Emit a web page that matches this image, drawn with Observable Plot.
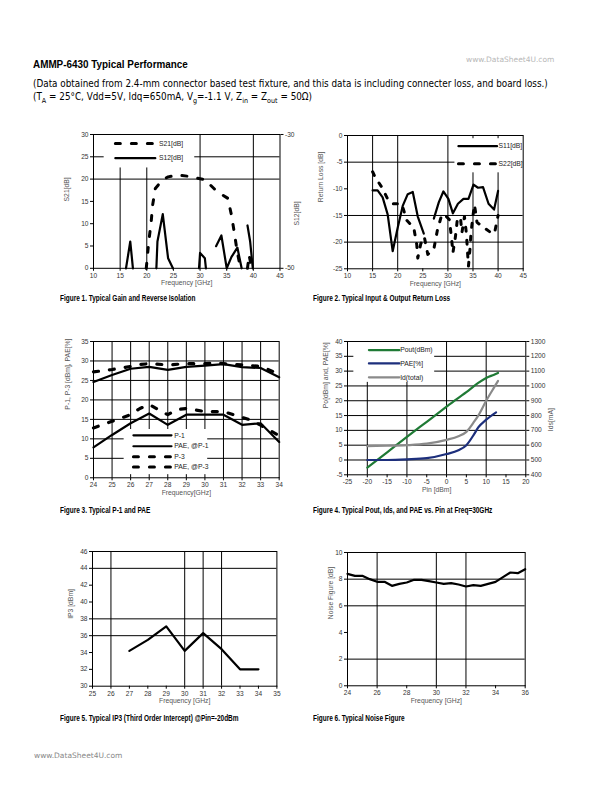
<!DOCTYPE html>
<html><head><meta charset="utf-8">
<script src="https://cdn.jsdelivr.net/npm/d3@7"></script>
<script src="https://cdn.jsdelivr.net/npm/@observablehq/plot@0.6"></script>
<style>
html,body{margin:0;padding:0;background:#fff;}
body{width:612px;height:792px;position:relative;overflow:hidden;font-family:"Liberation Sans",Arial,sans-serif;color:#000;}
.abs{position:absolute;white-space:nowrap;}
.title{font-weight:bold;font-size:11.5px;transform:scaleX(0.86);transform-origin:0 0;}
.sub{font-size:9.6px;font-family:"DejaVu Sans","Liberation Sans",sans-serif;transform:scaleX(0.92);transform-origin:0 0;}
.cap{font-weight:bold;font-size:9.4px;transform:scaleX(0.69);transform-origin:0 0;}
.wm{font-size:7.5px;color:#9a9a9a;font-family:"DejaVu Sans","Liberation Sans",sans-serif;}
svg{overflow:visible;}
</style></head>
<body>
<div class="abs title" style="left:33px;top:58px;">AMMP-6430 Typical Performance</div>
<div class="abs wm" style="left:466px;top:55px;color:#b8b8b8;">www.DataSheet4U.com</div>
<div class="abs sub" style="left:33px;top:78px;">(Data obtained from 2.4-mm connector based test fixture, and this data is including connecter loss, and board loss.)</div>
<div class="abs sub" style="left:33px;top:91px;">(T<sub style="font-size:7px">A</sub> = 25°C, Vdd=5V, Idq=650mA, V<sub style="font-size:7px">g</sub>=-1.1 V, Z<sub style="font-size:7px">in</sub> = Z<sub style="font-size:7px">out</sub> = 50Ω)</div>
<div class="abs wm" style="left:34px;top:751px;color:#888;">www.DataSheet4U.com</div>
<script>
// ---------------- Figure 1 : Gain and reverse isolation
const f1S21Freq = [19.9,20.4,20.8,21.1,21.6,23,24,25.9,28,29.5,31.2,32,33.1,34,35.2,35.9,36.4,37,37.6,38.2,38.9,39.2,39.6];
const f1S21     = [0,6.3,10.1,14.2,17.9,19.9,20.5,20.9,20.6,20.2,19.8,18.6,17.3,16.6,15.7,11.9,8.2,3.5,0,NaN,0,3,0.5];
const f1S12Freq = [16.1,16.9,17.4,19,21.8,22,23,24,24.9,27,29.8,30,30.9,31.1,32,33,34,35,35.9,37,37.8,38.3,38.9,39.4,39.9];
const f1S12     = [-50,-46,-50,NaN,-50,-46,-41.9,-48.5,-50,NaN,-50,-47.7,-48.5,-50,NaN,-46.7,-45.1,-50,-48.3,-46.9,-50,NaN,-43.6,-46,-50];
const f1XTicks = [10,15,20,25,30,35,40,45];
const f1YTicks = [0,5,10,15,20,25,30];
const f1RightTicks = [-30,-50];
const f1GridX = [15,20,30,40];
const f1GridY = [20,25];

// ---------------- Figure 2 : Return loss
const f2S11Freq = [15,16,17,18,19,20,21,22,23,24,25.2,26,27.2,28.2,29.1,30.1,31,32,33.1,34.1,35.1,36,37,38.1,39.2,40];
const f2S11     = [-10.3,-10.3,-11.6,-14.8,-21.7,-17.3,-13.2,-11,-10.6,-15.2,-18.4,NaN,-15.6,-12.5,-10.5,-11.9,-14.6,-12.8,-11.9,-11.9,-9.2,-9.8,-9.7,-12.8,-13.9,-10.4];
const f2S22Freq = [15,15.5,16.9,18.2,19,20.8,21.8,23.2,23.8,24,24.6,25.3,26,27.2,27.9,28.8,29.5,30.3,30.7,31,31.5,31.9,32.5,32.8,33.3,33.7,33.9,34.1,34.4,34.6,35,35.3,35.8,37.5,39,39.4,40];
const f2S22     = [-6.8,-7.8,-9.8,-12.3,-12.8,-12.8,-15.9,-17.3,-20.5,-23,-20.3,-19,-22.3,-21.3,-17.8,-14.8,-15,-15.8,-19,-22,-19,-15.6,-15.4,-18.2,-15.2,-18.5,-21.7,-24.5,-21.3,-18.3,-15,-13,-16.3,-17.5,-18.5,-17.8,-15];
const f2XTicks = [10,15,20,25,30,35,40,45];
const f2YTicks = [-25,-20,-15,-10,-5,0];
const f2GridX = [15,20,30,35,40];
const f2GridY = [-5,-15,-20];

// ---------------- Figure 3 : P-1 and PAE
const f3Freq   = [24,25,26,27,28,29,30,31,32,33,34];
const f3P1     = [24.6,26.4,28,28.5,27.7,28.5,28.8,29.2,28.4,28.2,25.8];
const f3PAE1   = [7.8,11,14,16.5,13.6,16.2,16.2,16.2,13.6,14,9.2];
const f3P3Freq = [24,25,26,26.5,27,28,29,30,30.5,31,32,33,34];
const f3P3     = [27.2,27.8,28.6,29.1,29.3,29,29.3,29.3,29.5,29.3,29,28.6,26.6];
const f3PAE3Freq = [24,25,26,26.5,27,28,28.5,29,30,31,32,32.5,33,34];
const f3PAE3   = [12.8,14.5,16.2,17.8,18.8,16.2,17.5,17.8,17,17,15.5,14.8,13.5,10.8];
const f3XTicks = [24,25,26,27,28,29,30,31,32,33,34];
const f3YTicks = [0,5,10,15,20,25,30,35];
const f3GridX = [25,26,27,28,29,30,31,32,33];
const f3GridY = [5,10,15,20,25,30];

// ---------------- Figure 4 : Pout, Ids, PAE vs Pin
const f4Pin     = [-20,-15,-10,-5,0,3,5,7,8,10,12,13];
const f4Pout    = [-2.6,2.6,7.8,12.9,18,21,22.9,25,26,27.7,28.8,29.4];
const f4PaePin  = [-20,-15,-10,-5,0,3,5,7,8,10,12.5];
const f4Pae     = [0,0,0.2,0.6,2,3.3,5,8.8,11,13.6,16.1];
const f4IdPin   = [-20,-15,-10,-5,0,3,5,7,8,10,12,13];
const f4Id      = [594,596,600,610,636,660,690,760,800,900,990,1034];
const f4XTicks = [-25,-20,-15,-10,-5,0,5,10,15,20];
const f4YTicks = [-5,0,5,10,15,20,25,30,35,40];
const f4RightTicks = [400,500,600,700,800,900,1000,1100,1200,1300];
const f4GridX = [-20,-10,0,10];
const f4GridY = [0,5,10,15,20,25,30,35];

// ---------------- Figure 5 : IP3
const f5Freq = [27,28,29,30,31,32,33,34];
const f5IP3  = [34.2,35.5,37.1,34.2,36.3,34.4,32,32];
const f5XTicks = [25,26,27,28,29,30,31,32,33,34,35];
const f5YTicks = [30,32,34,36,38,40,42,44,46];
const f5GridX = [26,30,31,32];
const f5GridY = [36,38,44];

// ---------------- Figure 6 : Noise figure
const f6Freq = [24,24.5,25,25.5,26,26.5,27,27.5,28,28.5,29,29.5,30,30.5,31,31.5,32,32.5,33,33.5,34,34.5,35,35.5,36];
const f6NF   = [8.4,8.25,8.25,8.0,7.8,7.8,7.5,7.65,7.75,7.95,7.95,7.85,7.75,7.65,7.7,7.6,7.45,7.55,7.5,7.65,7.8,8.15,8.5,8.45,8.75];
const f6XTicks = [24,26,28,30,32,34,36];
const f6YTicks = [0,2,4,6,8,10];
const f6GridX = [26,30,32];
const f6GridY = [2,6,8];

// ---------------- helpers
const rows = (xs, ys) => xs.map((x, i) => ({x, y: ys[i]}));
const FONT = "'Liberation Sans', Arial, sans-serif";
const TICKC = "#333", TITLEC = "#555";

function panel(o) {
  const mL = 40, mR = 40, mT = 6, mB = 34;
  const W = o.fx1 - o.fx0, H = o.fy1 - o.fy0;
  const marks = [
    Plot.ruleX(o.gridX, {stroke: "#000", strokeWidth: 1}),
    Plot.ruleY(o.gridY, {stroke: "#000", strokeWidth: 1})
  ];
  if (o.box) marks.push(Plot.rect([o.box], {x1: "x1", x2: "x2", y1: "y1", y2: "y2", fill: "#fff"}));
  marks.push(...o.marks);
  marks.push(Plot.frame({stroke: "#000", strokeWidth: 1}));
  marks.push(Plot.axisX(o.xTicks, {tickSize: 3, tickPadding: 2, label: null, fill: TICKC, tickFormat: d => String(d)}));
  marks.push(Plot.axisY(o.yTicks, {tickSize: 3, tickPadding: 2, label: null, fill: TICKC, tickFormat: d => String(d)}));
  if (o.right) marks.push(Plot.axisY(o.right.ticks.map(o.right.scale), {anchor: "right", tickSize: 3, tickPadding: 2, label: null, fill: TICKC, tickFormat: d => String(Math.round(o.right.scale.invert(d)))}));
  marks.push(Plot.text([o.xTitle], {text: d => d, frameAnchor: "bottom", dy: o.xTitleDy ?? 17, fill: TITLEC, fontSize: 6.8}));
  marks.push(Plot.text([o.yTitle], {text: d => d, frameAnchor: "left", dx: o.yTitleDx ?? -24, rotate: -90, fill: TITLEC, fontSize: 6.8}));
  if (o.right) marks.push(Plot.text([o.right.title], {text: d => d, frameAnchor: "right", dx: o.right.dx ?? 18, rotate: -90, fill: TITLEC, fontSize: 6.8}));
  const svg = Plot.plot({
    width: W + mL + mR, height: H + mT + mB,
    marginLeft: mL, marginRight: mR, marginTop: mT, marginBottom: mB,
    style: {fontFamily: FONT, fontSize: "6.6px", background: "transparent", overflow: "visible"},
    x: {domain: o.xDomain},
    y: {domain: o.yDomain},
    marks
  });
  svg.style.position = "absolute";
  svg.style.left = (o.fx0 - mL) + "px";
  svg.style.top = (o.fy0 - mT) + "px";
  svg.style.maxWidth = "none";
  document.body.appendChild(svg);
  const cap = document.createElement("div");
  cap.className = "abs cap";
  cap.style.left = o.capX + "px";
  cap.style.top = o.capY + "px";
  cap.textContent = o.caption;
  document.body.appendChild(cap);
}

function legendMarks(items, x1, x2, tx, size) {
  const out = [];
  for (const it of items) {
    out.push(Plot.line([{x: x1, y: it.y}, {x: x2, y: it.y}], {x: "x", y: "y", stroke: it.color || "#000", strokeWidth: it.dash ? 3 : 2.2, strokeDasharray: it.dash || null}));
    out.push(Plot.text([it], {x: () => tx, y: "y", text: "label", textAnchor: "start", fill: "#222", fontSize: size || 6.8}));
  }
  return out;
}

// ---------------- Figure 1
const s12Scale = d3.scaleLinear([-50, -30], [0, 30]);
panel({
  fx0: 92.5, fx1: 279, fy0: 133.5, fy1: 267.3,
  xDomain: [10, 45], yDomain: [0, 30],
  xTicks: f1XTicks, yTicks: f1YTicks, gridX: f1GridX, gridY: f1GridY,
  box: {x1: 12, x2: 29, y1: 22.5, y2: 30},
  right: {ticks: f1RightTicks, scale: s12Scale, title: "S12[dB]", dx: 17},
  xTitle: "Frequency [GHz]", yTitle: "S21[dB]", yTitleDx: -27,
  marks: [
    Plot.line(rows(f1S21Freq, f1S21), {x: "x", y: "y", stroke: "#000", strokeWidth: 3, strokeDasharray: "5,11"}),
    Plot.line(rows(f1S12Freq, f1S12.map(v => s12Scale(v))), {x: "x", y: "y", stroke: "#000", strokeWidth: 2.2}),
    ...legendMarks([{label: "S21[dB]", y: 28, dash: "5,11"}, {label: "S12[dB]", y: 24.7}], 14.1, 21.6, 22.3)
  ],
  caption: "Figure 1. Typical Gain and Reverse Isolation", capX: 60, capY: 292
});

// ---------------- Figure 2
panel({
  fx0: 347.3, fx1: 523, fy0: 135, fy1: 268.3,
  xDomain: [10, 45], yDomain: [-25, 0],
  xTicks: f2XTicks, yTicks: f2YTicks, gridX: f2GridX, gridY: f2GridY,
  box: {x1: 31.4, x2: 45, y1: -7, y2: -0.6},
  xTitle: "Frequency [GHz]", yTitle: "Return Loss [dB]", yTitleDx: -27,
  marks: [
    Plot.line(rows(f2S22Freq, f2S22), {x: "x", y: "y", stroke: "#000", strokeWidth: 3, strokeDasharray: "4,9"}),
    Plot.line(rows(f2S11Freq, f2S11), {x: "x", y: "y", stroke: "#000", strokeWidth: 2.2}),
    ...legendMarks([{label: "S11[dB]", y: -2}, {label: "S22[dB]", y: -5.3, dash: "5,11"}], 32.1, 39.8, 40.1)
  ],
  caption: "Figure 2. Typical Input & Output Return Loss", capX: 313, capY: 292
});

// ---------------- Figure 3
panel({
  fx0: 93.3, fx1: 279, fy0: 341, fy1: 477.3,
  xDomain: [24, 34], yDomain: [0, 35],
  xTicks: f3XTicks, yTicks: f3YTicks, gridX: f3GridX, gridY: f3GridY,
  box: {x1: 25.65, x2: 30.15, y1: 0.8, y2: 12.4},
  xTitle: "Frequency[GHz]", yTitle: "P-1, P-3 [dBm], PAE[%]", yTitleDx: -26,
  marks: [
    Plot.line(rows(f3P3Freq, f3P3), {x: "x", y: "y", stroke: "#000", strokeWidth: 3.2, strokeDasharray: "5,11"}),
    Plot.line(rows(f3PAE3Freq, f3PAE3), {x: "x", y: "y", stroke: "#000", strokeWidth: 3.2, strokeDasharray: "5,11"}),
    Plot.line(rows(f3Freq, f3P1), {x: "x", y: "y", stroke: "#000", strokeWidth: 2.2}),
    Plot.line(rows(f3Freq, f3PAE1), {x: "x", y: "y", stroke: "#000", strokeWidth: 2.2}),
    ...legendMarks([
      {label: "P-1", y: 10.9}, {label: "PAE, @P-1", y: 8.1},
      {label: "P-3", y: 5.4, dash: "5,11"}, {label: "PAE, @P-3", y: 2.8, dash: "5,11"}
    ], 26.15, 28.2, 28.35)
  ],
  caption: "Figure 3. Typical P-1 and PAE", capX: 60, capY: 504
});

// ---------------- Figure 4
const idScale = d3.scaleLinear([400, 1300], [-5, 40]);
panel({
  fx0: 346.7, fx1: 525, fy0: 341, fy1: 474.3,
  xDomain: [-25, 20], yDomain: [-5, 40],
  xTicks: f4XTicks, yTicks: f4YTicks, gridX: f4GridX, gridY: f4GridY,
  box: {x1: -23.4, x2: -3, y1: 26.2, y2: 40},
  right: {ticks: f4RightTicks, scale: idScale, title: "Ids[mA]", dx: 25},
  xTitle: "Pin [dBm]", yTitle: "Po[dBm] and, PAE[%]", yTitleDx: -22,
  marks: [
    Plot.line(rows(f4Pin, f4Pout), {x: "x", y: "y", stroke: "#1f7a35", strokeWidth: 2.2, curve: "monotone-x"}),
    Plot.line(rows(f4PaePin, f4Pae), {x: "x", y: "y", stroke: "#1d2f7c", strokeWidth: 2.2, curve: "monotone-x"}),
    Plot.line(rows(f4IdPin, f4Id.map(v => idScale(v))), {x: "x", y: "y", stroke: "#8a8a8a", strokeWidth: 2.2, curve: "monotone-x"}),
    ...legendMarks([
      {label: "Pout(dBm)", y: 37.1, color: "#1f7a35"},
      {label: "PAE[%]", y: 32.6, color: "#1d2f7c"},
      {label: "Id(total)", y: 27.9, color: "#8a8a8a"}
    ], -19.6, -11.9, -11.7)
  ],
  caption: "Figure 4. Typical Pout, Ids, and PAE vs. Pin at Freq=30GHz", capX: 313, capY: 504
});

// ---------------- Figure 5
panel({
  fx0: 92.3, fx1: 276.7, fy0: 551, fy1: 685.7,
  xDomain: [25, 35], yDomain: [30, 46],
  xTicks: f5XTicks, yTicks: f5YTicks, gridX: f5GridX, gridY: f5GridY,
  xTitle: "Frequency [GHz]", yTitle: "IP3 [dBm]", yTitleDx: -22,
  marks: [
    Plot.line(rows(f5Freq, f5IP3), {x: "x", y: "y", stroke: "#000", strokeWidth: 2.2})
  ],
  caption: "Figure 5. Typical IP3 (Third Order Intercept) @Pin=-20dBm", capX: 60, capY: 712
});

// ---------------- Figure 6
panel({
  fx0: 347.3, fx1: 525, fy0: 551.7, fy1: 685,
  xDomain: [24, 36], yDomain: [0, 10],
  xTicks: f6XTicks, yTicks: f6YTicks, gridX: f6GridX, gridY: f6GridY,
  xTitle: "Frequency [GHz]", yTitle: "Noise Figure [dB]", yTitleDx: -17,
  marks: [
    Plot.line(rows(f6Freq, f6NF), {x: "x", y: "y", stroke: "#000", strokeWidth: 2.2})
  ],
  caption: "Figure 6. Typical Noise Figure", capX: 313, capY: 712
});
</script>
</body></html>
